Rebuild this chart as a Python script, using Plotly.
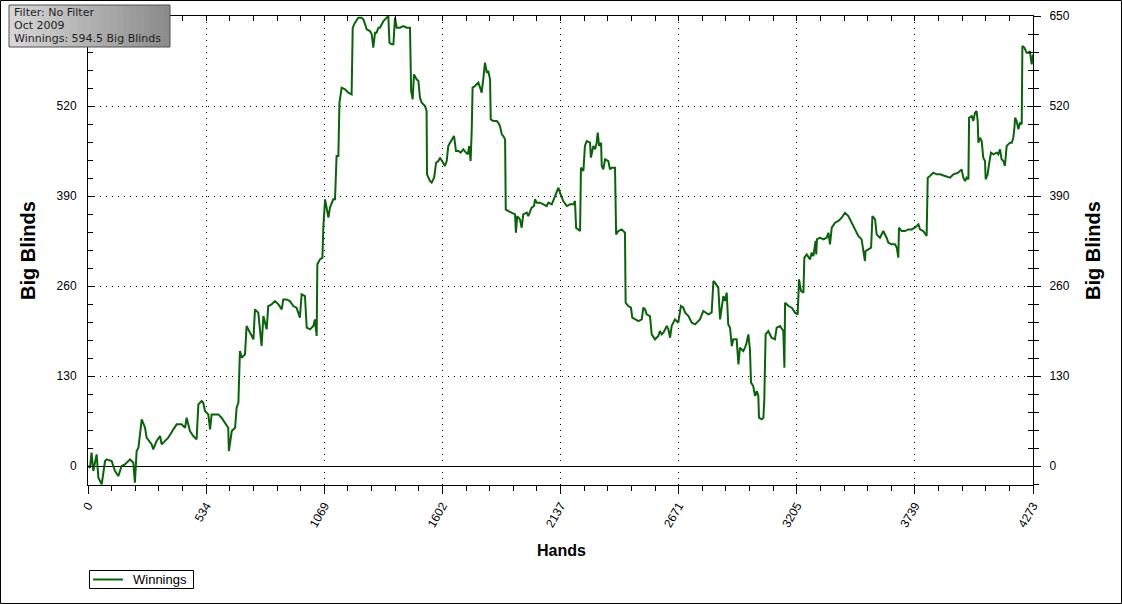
import plotly.graph_objects as go

# ---------------- data (hands, cumulative big blinds) ----------------
hands_a = [0, 9, 16, 24, 39, 47, 62, 77, 84, 107, 122, 137, 152, 167, 190, 205, 212, 220, 228, 243,
           258, 265, 288, 295, 310, 326, 333, 348, 363, 386, 401, 423, 439, 446, 461, 476, 491, 499, 514, 521,
           529, 544, 552, 559, 589, 604, 619, 634, 637, 650, 665, 672, 680, 687, 695, 710, 717, 732, 748, 755,
           770, 785, 793, 808, 815, 830, 845, 861, 876, 883, 898, 913, 928, 943, 958, 966, 981, 989, 1004, 1019,
           1026, 1034, 1037, 1049, 1060, 1064, 1072, 1087, 1094, 1109]
bb_a = [0, -2.4, 19.3, -7.2, 16.8, -16.9, -26.5, 7.2, 9.6, 7.2, -7.2, -14.5, 0, 2.4, 9.6, 4.8, -24, 21.7, 26.5, 67.4,
        55.3, 40.9, 31.3, 24.1, 36.1, 43.3, 31.3, 36.1, 40.9, 53, 60.2, 60.2, 55.3, 69.8, 50.6, 43.3, 38.5, 89, 93.9, 91.5,
        79.4, 74.6, 53, 74.6, 74.6, 69.8, 62.6, 55.3, 21.7, 50.6, 55.3, 84.2, 91.5, 166, 156.5, 161.3, 202.2, 192.6, 183, 226.3,
        221.5, 173.3, 216.6, 197.4, 231.1, 233.5, 238.3, 233.5, 226.3, 240.7, 240.7, 238.3, 231.1, 228.7, 214.3, 248, 245.5, 199.8, 197.4, 202.2,
        211.8, 187.8, 291.3, 298.5, 300.9, 344.2, 385.2, 358.7, 373.1, 385.2]

hands_b = [1117, 1124, 1132, 1137, 1147, 1162, 1177, 1192, 1197, 1207, 1222, 1237, 1245, 1253, 1260, 1275, 1283, 1290, 1298, 1305,
           1313, 1320, 1328, 1336, 1351, 1358, 1363, 1373, 1381, 1388, 1396, 1411, 1426, 1441, 1456, 1461, 1468, 1474, 1486, 1494,
           1501, 1509, 1524, 1531, 1533, 1546, 1554, 1565, 1574, 1584, 1592, 1607, 1614, 1622, 1629, 1637, 1649, 1655, 1664, 1675,
           1685, 1697, 1709, 1717, 1724, 1730, 1735, 1739, 1750, 1757, 1765, 1773, 1780, 1788, 1795, 1803, 1810, 1818, 1821, 1833,
           1848, 1855, 1863, 1871, 1878, 1886, 1889, 1901, 1916, 1931, 1935, 1941, 1953, 1961, 1968, 1984, 1991, 1999, 2006, 2017,
           2021, 2029, 2044, 2059, 2074, 2082, 2097, 2112, 2127, 2134, 2149, 2165, 2180, 2195, 2202, 2207]
bb_b = [385.2, 447.8, 447.8, 524.8, 546.5, 544.1, 539.2, 536.8, 633.1, 640.4, 647.6, 647.6, 645.2, 638, 630.7, 628.3, 623.5, 604.3, 625.9, 625.9,
        633.1, 633.1, 638, 642.8, 647.6, 650, 611.5, 609.1, 609.1, 647.6, 633.1, 633.1, 635.5, 633.1, 633.1, 541.7, 529.6, 565.7, 558.5, 556.1,
        532, 524.8, 520, 512.8, 421.3, 411.7, 409.3, 416.5, 438.1, 440.5, 445.4, 438.1, 433.3, 440.5, 462.2, 467, 474.2, 476.7, 455, 455,
        452.6, 457.4, 452.6, 450.2, 462.2, 440.5, 483.9, 546.5, 548.9, 551.3, 553.7, 546.5, 539.2, 560.9, 582.6, 568.1, 570.5, 558.5, 500.7, 498.3,
        498.3, 495.9, 491.1, 479.1, 476.7, 471.8, 370.7, 368.3, 365.9, 363.5, 337, 361.1, 356.3, 344.2, 363.5, 365.9, 361.1, 368.3, 373.1, 375.5,
        385.2, 380.4, 380.4, 378, 375.5, 380.4, 378, 390, 402, 394.8, 382.8, 375.5, 378, 378, 382.8, 344.2]

hands_c = [2225, 2229, 2240, 2247, 2255, 2270, 2274, 2285, 2293, 2300, 2305, 2311, 2320, 2323, 2330, 2338, 2353, 2360, 2368, 2383,
           2388, 2398, 2413, 2428, 2431, 2443, 2455, 2461, 2473, 2489, 2504, 2511, 2519, 2526, 2541, 2549, 2564, 2579, 2586, 2594,
           2602, 2617, 2624, 2632, 2639, 2654, 2669, 2681, 2692, 2700, 2715, 2722, 2730, 2745, 2757, 2767, 2782, 2805, 2820, 2828,
           2835, 2850, 2858, 2865, 2873, 2880, 2888, 2895, 2903, 2911, 2918, 2933, 2941, 2948, 2963, 2971, 2978, 2986, 2993, 2998,
           3008, 3016, 3024, 3031, 3034, 3046, 3054, 3058, 3064, 3076, 3091, 3106, 3114, 3129, 3137, 3144, 3149, 3152, 3167, 3182,
           3197, 3209, 3215, 3224, 3235, 3239, 3250, 3265, 3272, 3280, 3290]
bb_c = [339.4, 430.9, 426.1, 462.2, 469.4, 467, 445.4, 462.2, 457.4, 467, 481.5, 462.2, 467, 433.3, 428.5, 443, 440.5, 428.5, 430.9, 430.9,
        334.6, 339.4, 341.8, 337, 235.9, 231.1, 228.7, 214.3, 211.8, 209.4, 211.8, 228.7, 226.3, 219, 216.6, 190.2, 183, 187.8, 195, 190.2,
        192.6, 202.2, 197.4, 185.4, 202.2, 211.8, 207, 231.1, 228.7, 221.5, 216.6, 211.8, 207, 204.6, 209.4, 211.8, 223.9, 219, 221.5, 267.2,
        264.8, 257.6, 211.8, 228.7, 245.5, 238.3, 250.4, 204.6, 199.8, 173.3, 183, 183, 146.8, 170.9, 166.1, 170.9, 178.1, 190.2, 168.5, 120.4,
        115.5, 101.1, 108.3, 101.1, 69.8, 67.4, 69.8, 96.3, 190.2, 195, 185.4, 183, 199.8, 202.2, 197.4, 195, 142, 235.9, 231.1, 228.7,
        221.5, 219, 269.6, 252.8, 250.4, 300.9, 305.7, 298.5, 308.1, 303.3, 325]

hands_d = [3293, 3296, 3310, 3325, 3340, 3348, 3355, 3363, 3378, 3393, 3408, 3423, 3438, 3453, 3468, 3483, 3498, 3506, 3513, 3516,
           3528, 3541, 3547, 3559, 3566, 3581, 3596, 3604, 3611, 3619, 3634, 3649, 3657, 3664, 3667, 3679, 3694, 3709, 3724, 3739,
           3755, 3762, 3777, 3792, 3797, 3807, 3822, 3837, 3853, 3875, 3898, 3913, 3935, 3950, 3958, 3966, 3973, 3981, 3984, 3996,
           4003, 4011, 4018, 4023, 4026, 4033, 4041, 4048, 4056, 4059, 4068, 4074, 4083, 4094, 4109, 4116, 4124, 4131, 4139, 4146,
           4154, 4161, 4169, 4177, 4184, 4189, 4192, 4199, 4207, 4214, 4222, 4225, 4234, 4244, 4255, 4259, 4267, 4273]
bb_d = [305.7, 327.4, 329.8, 327.4, 329.8, 337, 320.2, 344.2, 351.5, 353.9, 358.7, 365.9, 361.1, 351.5, 341.8, 332.2, 327.4, 313, 296.1, 310.5,
        313, 315.4, 361.1, 356.3, 334.6, 329.8, 339.4, 334.6, 329.8, 322.6, 320.2, 320.2, 315.4, 300.9, 344.2, 339.4, 339.4, 341.8, 341.8, 344.2,
        349.1, 341.8, 339.4, 332.2, 416.5, 418.9, 423.7, 421.3, 421.3, 418.9, 416.5, 421.3, 423.7, 428.5, 416.5, 411.7, 416.5, 414.1, 503.1, 505.5,
        498.3, 510.4, 512.8, 498.3, 467, 474.2, 469.4, 445.4, 440.5, 414.1, 421.3, 435.7, 452.6, 450.2, 452.6, 450.2, 457.4, 443, 440.5, 433.3,
        462.2, 464.6, 467, 467, 474.2, 488.7, 503.1, 498.3, 486.3, 495.9, 493.5, 606.7, 604.3, 597.1, 597.1, 599.4, 580.2, 594.5]

hands = hands_a + hands_b + hands_c + hands_d
winnings = bb_a + bb_b + bb_c + bb_d

x_ticks = [0, 534, 1069, 1602, 2137, 2671, 3205, 3739, 4273]
x_tick_labels = ["0", "534", "1069", "1602", "2137", "2671", "3205", "3739", "4273"]
y_ticks = [0, 130, 260, 390, 520, 650]
y_tick_labels = ["0", "130", "260", "390", "520", "650"]

series_name = "Winnings"
info_lines = ["Filter: No Filter", "Oct 2009", "Winnings: 594.5 Big Blinds"]

# ---------------- layout geometry ----------------
W, H = 1122, 604
L, R, T, B = 88, 89, 16, 119
PW, PH = W - L - R, H - T - B
X_MAX = 4273
Y_RANGE = [-27.4, 650]
LINE_COLOR = "#0c620c"


def px2x(px):
    return (px - L) / PW


def py2y(py):
    return (H - B - py) / PH


FONT = "Liberation Sans, Arial, sans-serif"
x_minor = [i * X_MAX / 40 for i in range(41)]
y_minor = [v for v in range(-26, 651, 26)]
GRID_DASH = "1px,5px"

fig = go.Figure()
fig.add_trace(go.Scatter(
    x=hands, y=winnings, mode="lines", name=series_name,
    line=dict(color=LINE_COLOR, width=2), showlegend=False,
))
# helper traces so the mirrored axes render
fig.add_trace(go.Scatter(x=[None], y=[None], xaxis="x2", yaxis="y", showlegend=False, hoverinfo="skip"))
fig.add_trace(go.Scatter(x=[None], y=[None], xaxis="x", yaxis="y2", showlegend=False, hoverinfo="skip"))

fig.update_layout(
    width=W, height=H,
    margin=dict(l=L, r=R, t=T, b=B, pad=0, autoexpand=False),
    paper_bgcolor="white", plot_bgcolor="white",
    font=dict(family=FONT, size=12, color="black"),
    xaxis=dict(
        range=[0, X_MAX], tickmode="array", tickvals=x_ticks, ticktext=x_tick_labels,
        tickangle=-60, ticks="outside", ticklen=8, tickcolor="black", tickwidth=1,
        showline=True, linecolor="black", linewidth=1, automargin=False,
        showgrid=True, gridcolor="black", gridwidth=1, griddash=GRID_DASH,
        zeroline=False, tickfont=dict(family=FONT, size=12, color="black"),
        minor=dict(tickmode="array", tickvals=x_minor, ticks="outside", ticklen=5,
                   tickcolor="black", showgrid=False),
    ),
    xaxis2=dict(
        range=[0, X_MAX], overlaying="x", side="top", anchor="y", automargin=False,
        tickmode="array", tickvals=x_ticks, ticks="inside", ticklen=5, tickcolor="black",
        showticklabels=False, showline=True, linecolor="black", linewidth=1,
        showgrid=False, zeroline=False,
        minor=dict(tickmode="array", tickvals=x_minor, ticks="inside", ticklen=5,
                   tickcolor="black", showgrid=False),
    ),
    yaxis=dict(
        range=Y_RANGE, tickmode="array", tickvals=y_ticks[:-1], ticktext=y_tick_labels[:-1],
        ticks="inside", ticklen=6, tickcolor="black", ticklabelstandoff=8, automargin=False,
        showline=True, linecolor="black", linewidth=1, mirror="ticks",
        showgrid=True, gridcolor="black", gridwidth=1, griddash=GRID_DASH,
        zeroline=True, zerolinecolor="black", zerolinewidth=1,
        tickfont=dict(family=FONT, size=12, color="black"),
        minor=dict(tickmode="array", tickvals=y_minor, ticks="inside", ticklen=5,
                   tickcolor="black", showgrid=False),
    ),
    yaxis2=dict(
        range=Y_RANGE, overlaying="y", side="right", anchor="x", automargin=False,
        tickmode="array", tickvals=y_ticks, ticktext=y_tick_labels,
        ticks="outside", ticklen=7, tickcolor="black", ticklabelstandoff=6,
        showline=True, linecolor="black", linewidth=1,
        showgrid=False, zeroline=False,
        tickfont=dict(family=FONT, size=12, color="black"),
        minor=dict(tickmode="array", tickvals=y_minor, ticks="outside", ticklen=5,
                   tickcolor="black", showgrid=False),
    ),
    showlegend=False,
)

# axis titles
for tx in (28, 1093):
    fig.add_annotation(text="<b>Big Blinds</b>", x=px2x(tx), y=py2y(251), xref="paper", yref="paper",
                       xanchor="center", yanchor="middle", textangle=-90, showarrow=False,
                       font=dict(family=FONT, size=20, color="black"))
fig.add_annotation(text="<b>Hands</b>", x=px2x(561), y=py2y(550), xref="paper", yref="paper",
                   xanchor="center", yanchor="middle", showarrow=False,
                   font=dict(family=FONT, size=16, color="black"))

# legend box (drawn by hand to match the compact original)
fig.add_shape(type="rect", xref="paper", yref="paper",
              x0=px2x(89.5), x1=px2x(193.5), y0=py2y(588.5), y1=py2y(570.5),
              line=dict(color="black", width=1), fillcolor="white", layer="above")
fig.add_shape(type="line", xref="paper", yref="paper",
              x0=px2x(93), x1=px2x(123), y0=py2y(579.5), y1=py2y(579.5),
              line=dict(color=LINE_COLOR, width=2), layer="above")
fig.add_annotation(text=series_name, x=px2x(131), y=py2y(579.5), xref="paper", yref="paper",
                   xanchor="left", yanchor="middle", showarrow=False,
                   font=dict(family=FONT, size=13, color="black"))

# info box with a grey gradient
bx0, bx1, by0, by1 = 9, 170, 5, 47
n_strips = 24
for i in range(n_strips):
    t = i / (n_strips - 1)
    g = int(round(214 - t * (214 - 140)))
    xa = bx0 + (bx1 - bx0) * i / n_strips
    xb = bx0 + (bx1 - bx0) * (i + 1) / n_strips + 0.6
    fig.add_shape(type="rect", xref="paper", yref="paper",
                  x0=px2x(xa), x1=px2x(min(xb, bx1)), y0=py2y(by1), y1=py2y(by0),
                  line=dict(width=0), fillcolor=f"rgb({g},{g},{g})", layer="above")
fig.add_shape(type="rect", xref="paper", yref="paper",
              x0=px2x(bx0), x1=px2x(bx1), y0=py2y(by1), y1=py2y(by0),
              line=dict(color="#505050", width=1), fillcolor="rgba(0,0,0,0)", layer="above")
for i, line in enumerate(info_lines):
    fig.add_annotation(text=line, x=px2x(12), y=py2y(12.5 + 13 * i), xref="paper", yref="paper",
                       xanchor="left", yanchor="middle", showarrow=False,
                       font=dict(family="DejaVu Sans, sans-serif", size=11, color="#1e1e1e"))

# outer frame
fig.add_shape(type="rect", xref="paper", yref="paper",
              x0=px2x(0.5), x1=px2x(W - 0.5), y0=py2y(H - 0.5), y1=py2y(0.5),
              line=dict(color="black", width=1), fillcolor="rgba(0,0,0,0)", layer="above")

fig.write_html("out.html", config={"displayModeBar": False},
               post_script="document.body.style.margin='0';")
